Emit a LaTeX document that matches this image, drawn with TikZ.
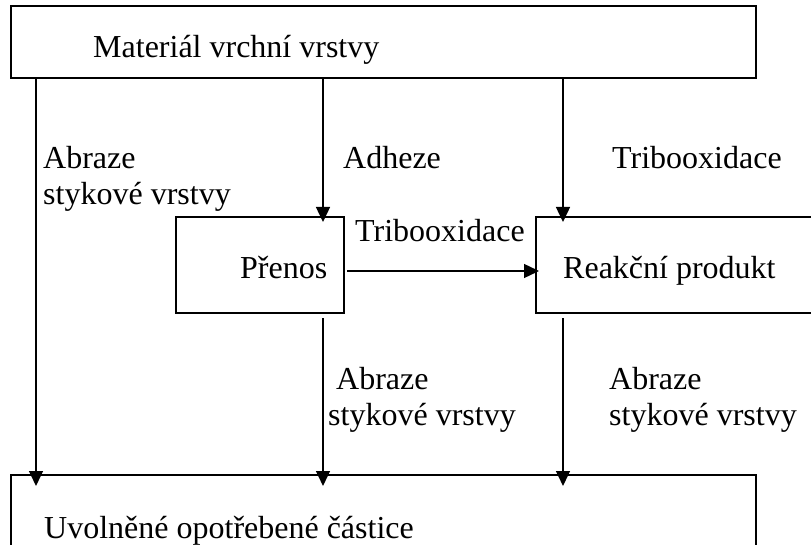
\documentclass[tikz,border=0pt]{standalone}
\usepackage{fontspec}
\setmainfont{Liberation Serif}
\usetikzlibrary{arrows.meta,calc}
\begin{document}
\begin{tikzpicture}[x=1pt,y=-1pt,
  box/.style={draw, line width=1.8pt, inner sep=0pt, outer sep=0pt, anchor=north west},
  txt/.style={inner sep=0pt, anchor=base west, align=left,
    font=\fontsize{32}{36}\selectfont},
  flow/.style={line width=1.4pt, -{Triangle[length=15pt,width=14pt]}}]
\useasboundingbox (0,0) rectangle (811,545);

% boxes
\node[box, minimum width=745pt, minimum height=72pt] (top) at (11,6) {};
\node[box, minimum width=168pt, minimum height=96pt] (pren) at (176,217) {};
\node[box, minimum width=290pt, minimum height=96pt] (reak) at (536,217) {};
\node[box, minimum width=745pt, minimum height=100pt] (bottom) at (11,475) {};

% box texts
\node[txt] (ttop) at (93,58) {Materiál vrchní vrstvy};
\node[txt] (tpren) at (240,279) {Přenos};
\node[txt] (treak) at (563,279) {Reakční produkt};
\node[txt] (tbottom) at (44,538) {Uvolněné opotřebené částice};

% connector labels (base anchor sits on the last line)
\node[txt] (l1) at (43,205) {Abraze\\stykové vrstvy};
\node[txt] (l2) at (343,169) {Adheze};
\node[txt] (l3) at (612,169) {Tribooxidace};
\node[txt] (l4) at (355,242) {Tribooxidace};
\node[txt] (l5) at (328,425) {\hspace*{8pt}Abraze\\stykové vrstvy};
\node[txt] (l6) at (609,425) {Abraze\\stykové vrstvy};

% connectors
\draw[flow] ($(top.south west)+(25,0)$) -- ($(bottom.north west)+(25,11)$);
\draw[flow] ($(top.south -| pren.north east)+(-21,0)$) -- ($(pren.north east)+(-21,5)$);
\draw[flow] ($(top.south -| reak.north west)+(27,0)$) -- ($(reak.north west)+(27,5)$);
\draw[flow] ($(pren.east)+(3,6)$) -- ($(reak.west)+(3,6)$);
\draw[flow] ($(pren.south east)+(-21,5)$) -- ($(bottom.north -| pren.south east)+(-21,11)$);
\draw[flow] ($(reak.south west)+(27,5)$) -- ($(bottom.north -| reak.south west)+(27,11)$);
\end{tikzpicture}
\end{document}
